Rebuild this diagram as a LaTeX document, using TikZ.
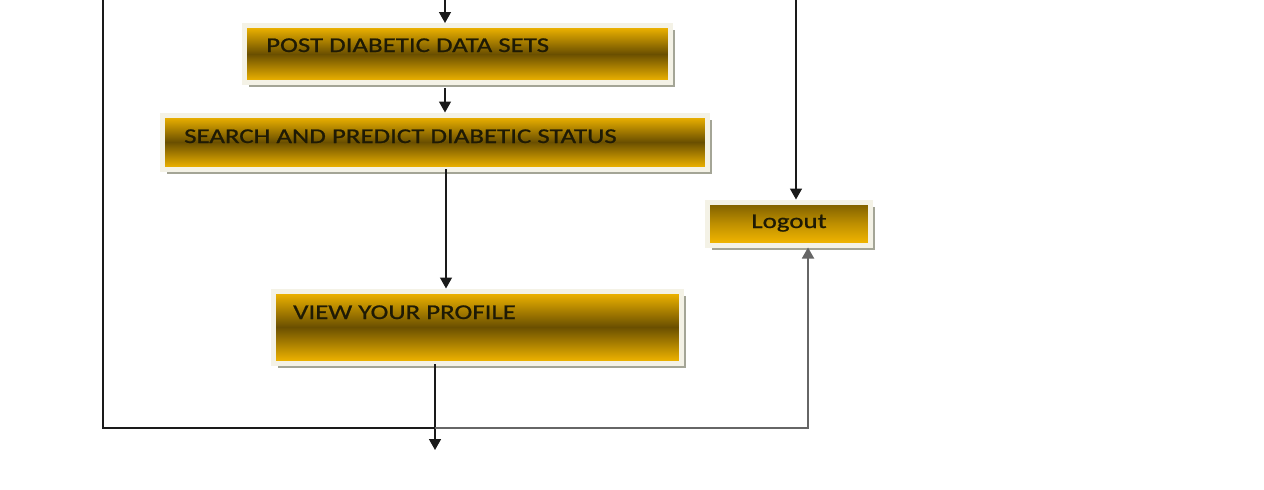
\documentclass[tikz,border=0pt]{standalone}
\usepackage{fontspec}
\setmainfont{Carlito}[FakeStretch=1.28, FakeBold=0.9]
\usetikzlibrary{arrows.meta,shadows}
\definecolor{goldL}{HTML}{F6B900}
\definecolor{goldD}{HTML}{6A4F00}
\definecolor{goldT}{HTML}{7A5C00}
\definecolor{framecol}{HTML}{F4F2E6}
\definecolor{shadowcol}{HTML}{A4A596}
\definecolor{txtcol}{HTML}{1E1A05}
\definecolor{linecol}{HTML}{1A1A1A}
\definecolor{linegray}{HTML}{666666}
\begin{document}
\begin{tikzpicture}[x=1pt,y=-1pt,
  box/.style={rectangle, draw=framecol, line width=5pt, inner sep=0pt,
    top color=goldL, bottom color=goldL, middle color=goldD,
    drop shadow={shadow xshift=4.5pt, shadow yshift=-4.5pt, fill=shadowcol, opacity=1}},
  logbox/.style={box, top color=goldT, bottom color=goldL, middle color=goldL!55!goldT},
  lbl/.style={font=\fontsize{21}{24}\selectfont, text=txtcol, inner sep=0pt, anchor=base west},
  arr/.style={draw=linecol, line width=1.5pt, -{Triangle[width=12pt,length=11pt]}},
  arrg/.style={draw=linegray, line width=1.8pt, -{Triangle[width=12pt,length=11pt]}}
]
\useasboundingbox (0,0) rectangle (1264,490);

% boxes
\node[box, minimum width=426pt, minimum height=57pt] (post) at (457,54) {};
\node[box, minimum width=545pt, minimum height=54pt] (search) at (434.5,142) {};
\node[box, minimum width=408pt, minimum height=72pt] (view) at (477,327) {};
\node[logbox, minimum width=163pt, minimum height=43pt] (logout) at (789,223.5) {};

% texts
\node[lbl] (postT) at (266,52) {POST DIABETIC DATA SETS};
\node[lbl] (searchT) at (184,143) {SEARCH AND PREDICT DIABETIC STATUS};
\node[lbl] (viewT) at (293,319) {VIEW YOUR PROFILE};
\node[lbl, anchor=base] (logoutT) at (789,228) {Logout};

% coordinates
\coordinate (inTop) at (445,0);
\coordinate (postOut) at (445,88);
\coordinate (searchOut) at (446,169);
\coordinate (viewOut) at (435,364);
\coordinate (bottomEnd) at (435,450);
\coordinate (loopTop) at (103,0);
\coordinate (loopCorner) at (103,428);
\coordinate (loopMid) at (435,428);
\coordinate (loopRight) at (808,428);
\coordinate (logTop) at (796,0);

% connectors
\draw[arr] (inTop) -- (inTop |- post.north);
\draw[arr] (postOut) -- (postOut |- search.north);
\draw[arr] (searchOut) -- (searchOut |- view.north);
\draw[arr] (viewOut) -- (bottomEnd);
\draw[arr] (logTop) -- (logTop |- logout.north);
\draw[draw=linecol, line width=1.5pt] (loopTop) -- (loopCorner) -- (loopMid);
\draw[arrg] (loopMid) -- (loopRight) -- (loopRight |- logout.south);
\end{tikzpicture}
\end{document}
